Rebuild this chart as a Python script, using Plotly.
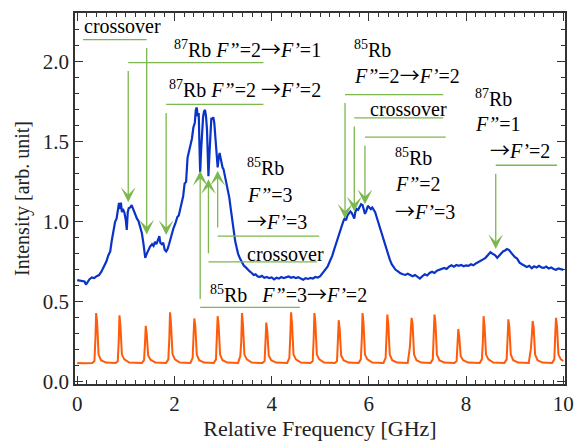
import plotly.graph_objects as go

# ---------------- data ----------------
blue_x = [0.00, 0.05, 0.10, 0.15, 0.18, 0.20, 0.25, 0.30, 0.35, 0.40, 0.45, 0.50, 0.53, 0.56, 0.60,
          0.64, 0.68, 0.71, 0.74, 0.78, 0.81, 0.84, 0.86, 0.88, 0.90, 0.92, 0.94, 0.97, 1.00, 1.02,
          1.04, 1.06, 1.09, 1.12, 1.15, 1.19, 1.23, 1.26, 1.30, 1.33, 1.36, 1.38, 1.40, 1.43, 1.47,
          1.50, 1.54, 1.57, 1.60, 1.63, 1.66, 1.69, 1.71, 1.74, 1.77, 1.80, 1.83, 1.86, 1.89, 1.92,
          1.95, 1.98, 2.02, 2.06, 2.09, 2.12, 2.15, 2.18, 2.21, 2.24, 2.27, 2.30, 2.33, 2.36, 2.39,
          2.42, 2.44, 2.46, 2.48, 2.50, 2.52, 2.53, 2.55, 2.57, 2.59, 2.61, 2.63, 2.65, 2.67, 2.69,
          2.70, 2.72, 2.74, 2.76, 2.78, 2.80, 2.82, 2.84, 2.86, 2.88, 2.89, 2.91, 2.93, 2.95, 2.97,
          2.99, 3.01, 3.04, 3.07, 3.10, 3.13, 3.16, 3.19, 3.22, 3.25, 3.28, 3.31, 3.35, 3.39, 3.43,
          3.47, 3.51, 3.55, 3.59, 3.63, 3.67, 3.71, 3.75, 3.80, 3.85, 3.90, 3.95, 4.00, 4.05, 4.10,
          4.15, 4.20, 4.25, 4.30, 4.35, 4.40, 4.45, 4.50, 4.55, 4.60, 4.65, 4.70, 4.75, 4.80, 4.85,
          4.90, 4.95, 5.00, 5.05, 5.10, 5.15, 5.20, 5.25, 5.29, 5.33, 5.37, 5.41, 5.44, 5.47, 5.50,
          5.53, 5.56, 5.59, 5.62, 5.65, 5.68, 5.70, 5.72, 5.75, 5.78, 5.81, 5.84, 5.87, 5.90, 5.92,
          5.95, 5.98, 6.01, 6.04, 6.07, 6.10, 6.13, 6.16, 6.19, 6.22, 6.25, 6.28, 6.31, 6.35, 6.39,
          6.43, 6.47, 6.51, 6.55, 6.60, 6.65, 6.70, 6.75, 6.80, 6.85, 6.90, 6.95, 7.00, 7.05, 7.10,
          7.15, 7.20, 7.25, 7.30, 7.35, 7.40, 7.45, 7.50, 7.55, 7.60, 7.65, 7.70, 7.75, 7.80, 7.85,
          7.90, 7.95, 8.00, 8.05, 8.10, 8.15, 8.20, 8.25, 8.30, 8.35, 8.40, 8.45, 8.50, 8.55, 8.60,
          8.64, 8.68, 8.72, 8.76, 8.80, 8.84, 8.88, 8.92, 8.96, 9.00, 9.05, 9.10, 9.15, 9.20, 9.25,
          9.30, 9.35, 9.40, 9.45, 9.50, 9.55, 9.60, 9.65, 9.70, 9.75, 9.80, 9.85, 9.90, 9.95, 10.00]
blue_y = [0.636, 0.632, 0.628, 0.627, 0.608, 0.618, 0.640, 0.652, 0.648, 0.660, 0.667, 0.690, 0.708, 0.728, 0.752,
          0.790, 0.815, 0.880, 0.930, 1.000, 1.020, 1.085, 1.118, 1.080, 1.120, 1.060, 1.080, 1.060, 1.010, 0.950,
          1.060, 1.085, 1.090, 1.105, 1.080, 1.050, 1.020, 1.005, 0.960, 0.930, 0.870, 0.800, 0.775, 0.800, 0.830,
          0.845, 0.860, 0.850, 0.875, 0.860, 0.885, 0.910, 0.870, 0.860, 0.870, 0.825, 0.815, 0.830, 0.860, 0.900,
          0.930, 0.960, 0.990, 1.030, 1.040, 1.080, 1.125, 1.160, 1.240, 1.250, 1.400, 1.440, 1.470, 1.520, 1.590,
          1.620, 1.700, 1.715, 1.660, 1.680, 1.420, 1.310, 1.450, 1.600, 1.656, 1.690, 1.700, 1.660, 1.580, 1.380,
          1.285, 1.420, 1.600, 1.650, 1.640, 1.655, 1.620, 1.540, 1.480, 1.370, 1.340, 1.400, 1.430, 1.400, 1.360,
          1.340, 1.330, 1.290, 1.240, 1.200, 1.150, 1.080, 1.000, 0.930, 0.880, 0.840, 0.800, 0.770, 0.750, 0.725,
          0.715, 0.700, 0.690, 0.680, 0.668, 0.672, 0.660, 0.655, 0.662, 0.650, 0.655, 0.648, 0.652, 0.640, 0.650,
          0.645, 0.655, 0.648, 0.652, 0.658, 0.650, 0.655, 0.648, 0.654, 0.645, 0.638, 0.648, 0.643, 0.650, 0.646,
          0.655, 0.652, 0.660, 0.680, 0.695, 0.720, 0.755, 0.790, 0.830, 0.870, 0.905, 0.940, 0.975, 1.000, 1.020,
          1.010, 1.040, 1.050, 1.065, 1.055, 1.030, 1.020, 1.060, 1.080, 1.075, 1.095, 1.110, 1.105, 1.070, 1.050,
          1.070, 1.100, 1.090, 1.080, 1.090, 1.075, 1.060, 1.030, 1.000, 0.960, 0.930, 0.900, 0.870, 0.830, 0.795,
          0.765, 0.735, 0.715, 0.700, 0.690, 0.678, 0.672, 0.668, 0.675, 0.665, 0.660, 0.668, 0.655, 0.645, 0.660,
          0.672, 0.665, 0.680, 0.688, 0.680, 0.695, 0.700, 0.705, 0.712, 0.705, 0.720, 0.728, 0.720, 0.730, 0.725,
          0.730, 0.722, 0.728, 0.725, 0.735, 0.728, 0.740, 0.748, 0.752, 0.765, 0.775, 0.790, 0.810, 0.800, 0.790,
          0.775, 0.790, 0.805, 0.815, 0.820, 0.830, 0.825, 0.810, 0.795, 0.780, 0.770, 0.745, 0.735, 0.728, 0.718,
          0.725, 0.710, 0.722, 0.715, 0.725, 0.715, 0.712, 0.720, 0.708, 0.715, 0.705, 0.700, 0.708, 0.702, 0.700]

orange_x = [0.00, 0.15,
            0.31, 0.355, 0.375, 0.39, 0.41, 0.44, 0.49, 0.59,
            0.79, 0.835, 0.855, 0.87, 0.89, 0.92, 0.97, 1.07,
            1.33, 1.375, 1.395, 1.41, 1.43, 1.46, 1.51, 1.61,
            1.83, 1.875, 1.895, 1.91, 1.93, 1.96, 2.01, 2.11,
            2.33, 2.375, 2.395, 2.41, 2.43, 2.46, 2.51, 2.61,
            2.81, 2.855, 2.875, 2.89, 2.91, 2.94, 2.99, 3.09,
            3.31, 3.355, 3.375, 3.39, 3.41, 3.44, 3.49, 3.59,
            3.81, 3.855, 3.875, 3.89, 3.91, 3.94, 3.99, 4.09,
            4.32, 4.365, 4.385, 4.40, 4.42, 4.45, 4.50, 4.60,
            4.80, 4.845, 4.865, 4.88, 4.90, 4.93, 4.98, 5.08,
            5.30, 5.345, 5.365, 5.38, 5.40, 5.43, 5.48, 5.58,
            5.79, 5.835, 5.855, 5.87, 5.89, 5.92, 5.97, 6.07,
            6.30, 6.345, 6.365, 6.38, 6.40, 6.43, 6.48, 6.58,
            6.80, 6.845, 6.865, 6.88, 6.90, 6.93, 6.98, 7.08,
            7.27, 7.315, 7.335, 7.35, 7.37, 7.40, 7.45, 7.55,
            7.76, 7.805, 7.825, 7.84, 7.86, 7.89, 7.94, 8.04,
            8.28, 8.325, 8.345, 8.36, 8.38, 8.41, 8.46, 8.56,
            8.79, 8.835, 8.855, 8.87, 8.89, 8.92, 8.97, 9.07,
            9.29, 9.335, 9.355, 9.37, 9.39, 9.42, 9.47, 9.57,
            9.77, 9.815, 9.835, 9.85, 9.87, 9.90, 9.95, 10.00]
orange_y = [0.118, 0.115,
            0.117, 0.130, 0.270, 0.430, 0.370, 0.170, 0.135, 0.120,
            0.117, 0.128, 0.260, 0.415, 0.350, 0.170, 0.140, 0.120,
            0.117, 0.135, 0.240, 0.350, 0.300, 0.165, 0.138, 0.120,
            0.118, 0.140, 0.270, 0.434, 0.360, 0.175, 0.140, 0.120,
            0.118, 0.150, 0.300, 0.396, 0.350, 0.170, 0.135, 0.120,
            0.118, 0.140, 0.300, 0.410, 0.350, 0.170, 0.135, 0.120,
            0.118, 0.160, 0.250, 0.430, 0.360, 0.170, 0.140, 0.120,
            0.117, 0.130, 0.260, 0.370, 0.320, 0.165, 0.135, 0.120,
            0.118, 0.150, 0.300, 0.434, 0.360, 0.170, 0.140, 0.120,
            0.118, 0.130, 0.270, 0.430, 0.370, 0.170, 0.140, 0.120,
            0.117, 0.130, 0.270, 0.385, 0.330, 0.165, 0.135, 0.120,
            0.118, 0.140, 0.270, 0.430, 0.370, 0.170, 0.140, 0.120,
            0.118, 0.150, 0.300, 0.420, 0.360, 0.170, 0.135, 0.120,
            0.118, 0.220, 0.330, 0.400, 0.360, 0.170, 0.135, 0.120,
            0.118, 0.140, 0.300, 0.420, 0.370, 0.170, 0.135, 0.120,
            0.117, 0.130, 0.240, 0.330, 0.280, 0.160, 0.135, 0.120,
            0.118, 0.140, 0.250, 0.410, 0.350, 0.170, 0.140, 0.120,
            0.118, 0.140, 0.280, 0.390, 0.340, 0.170, 0.135, 0.120,
            0.118, 0.210, 0.300, 0.380, 0.340, 0.170, 0.135, 0.120,
            0.118, 0.140, 0.300, 0.400, 0.350, 0.170, 0.140, 0.130]

# connector lines (horizontal leader + vertical arrow)
conn_hx0 = [0.12, 1.05, 1.83, 5.51, 5.70, 5.92, 8.61, 2.89, 2.70, 2.53]
conn_hx1 = [1.43, 3.83, 3.83, 7.53, 7.53, 7.58, 9.87, 4.98, 4.93, 4.58]
conn_hy = [2.14, 1.996, 1.734, 1.796, 1.65, 1.53, 1.354, 0.911, 0.75, 0.465]
conn_vx = [1.43, 1.05, 1.83, 5.51, 5.70, 5.92, 8.61, 2.89, 2.70, 2.53]
conn_tip = [0.921, 1.123, 0.917, 1.02, 1.065, 1.11, 0.83, 1.32, 1.267, 1.319]

# label texts
ARR = "<span style='font-family:Noto Sans CJK JP'>→</span>"
lab_text = ["crossover",
            "<sup>87</sup>Rb <i>F”</i>=2" + ARR + "<i>F’</i>=1",
            "<sup>87</sup>Rb <i>F”</i>=2 " + ARR + "<i>F’</i>=2",
            "<sup>85</sup>Rb", "<i>F”</i>=2" + ARR + "<i>F’</i>=2",
            "crossover",
            "<sup>87</sup>Rb", "<i>F”</i>=1", ARR + "<i>F’</i>=2",
            "<sup>85</sup>Rb", "<i>F”</i>=2", ARR + "<i>F’</i>=3",
            "<sup>85</sup>Rb", "<i>F”</i>=3", ARR + "<i>F’</i>=3",
            "crossover",
            "<sup>85</sup>Rb&nbsp;&nbsp;&nbsp;<i>F”</i>=3" + ARR + "<i>F’</i>=2"]
lab_x = [0.097, 5.062, 5.062, 5.646, 5.646, 5.988, 8.142, 8.142, 8.451,
         6.496, 6.496, 6.496, 3.45, 3.45, 3.45, 3.45, 2.689]
lab_y = [2.223, 2.086, 1.836, 2.08, 1.923, 1.704, 1.773, 1.611, 1.454,
         1.404, 1.236, 1.073, 1.342, 1.167, 1.011, 0.798, 0.554]
lab_anchor = ["left", "right", "right", "left", "left", "left", "left", "left", "left",
              "left", "left", "left", "left", "left", "left", "left", "left"]

x_ticks = [0, 2, 4, 6, 8, 10]
y_ticks = [0.0, 0.5, 1.0, 1.5, 2.0]

GREEN = "#7db84e"
FONT = "Liberation Serif"

fig = go.Figure()
fig.add_trace(go.Scatter(x=orange_x, y=orange_y, mode="lines",
                         line=dict(color="#ff5b0a", width=2), hoverinfo="skip"))
fig.add_trace(go.Scatter(x=blue_x, y=blue_y, mode="lines",
                         line=dict(color="#0a33c8", width=2.2), hoverinfo="skip"))

for hx0, hx1, hy in zip(conn_hx0, conn_hx1, conn_hy):
    fig.add_shape(type="line", xref="x", yref="y", x0=hx0, x1=hx1, y0=hy, y1=hy,
                  line=dict(color=GREEN, width=1.3))
for vx, hy, tip in zip(conn_vx, conn_hy, conn_tip):
    fig.add_annotation(x=vx, y=tip, ax=vx, ay=hy, xref="x", yref="y", axref="x", ayref="y",
                       text=" ", showarrow=True, arrowhead=3, arrowsize=1.9, arrowwidth=1.3,
                       arrowcolor=GREEN, standoff=0, startstandoff=0)

for t, x, y, a in zip(lab_text, lab_x, lab_y, lab_anchor):
    fig.add_annotation(x=x, y=y, xref="x", yref="y", text=t, showarrow=False,
                       xanchor=a, yanchor="middle",
                       font=dict(family=FONT, size=20, color="black"))

axis_common = dict(showgrid=False, zeroline=False, showline=True, linecolor="#333333",
                   linewidth=1.5, mirror="ticks", ticks="inside", ticklen=8, tickwidth=1.3,
                   tickcolor="#333333", automargin=False,
                   tickfont=dict(family=FONT, size=21, color="#222222"))

fig.update_xaxes(range=[-0.045, 10.035], tickvals=x_ticks,
                 minor=dict(ticks="inside", dtick=0.2, tick0=0, ticklen=4, tickwidth=1.1,
                            tickcolor="#333333"),
                 title=dict(text="Relative Frequency [GHz]", standoff=6,
                            font=dict(family=FONT, size=22, color="#222222")),
                 **axis_common)
fig.update_yaxes(range=[-0.014, 2.306], tickvals=y_ticks, tickformat=".1f",
                 minor=dict(ticks="inside", dtick=0.1, tick0=0, ticklen=4, tickwidth=1.1,
                            tickcolor="#333333"),
                 title=dict(text="Intensity [arb. unit]", standoff=8,
                            font=dict(family=FONT, size=20, color="#222222")),
                 **axis_common)

fig.update_layout(width=580, height=441, margin=dict(l=75, r=15, t=13, b=57),
                  plot_bgcolor="white", paper_bgcolor="white", showlegend=False,
                  font=dict(family=FONT))

fig.write_html("out.html", config={"displayModeBar": False},
               post_script="document.body.style.margin='0px';document.body.style.overflow='hidden';")
